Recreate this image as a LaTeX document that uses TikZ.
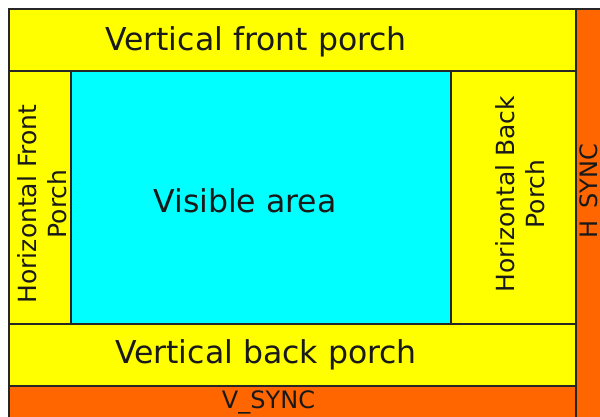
\documentclass[tikz,border=0pt]{standalone}
\usepackage{fontspec}
\setmainfont{DejaVu Sans}
\definecolor{porch}{HTML}{FFFF00}
\definecolor{visarea}{HTML}{00FFFF}
\definecolor{syncc}{HTML}{FF6600}
\begin{document}
\begin{tikzpicture}[x=1pt,y=-1pt,
 area/.style={draw=black!85, line width=1.6pt, fill=#1, anchor=north west, inner sep=0pt, outer sep=0pt},
 big/.style={font=\fontsize{31.5}{38}\selectfont, inner sep=0pt, text=black!90},
 side/.style={font=\fontsize{25}{30}\selectfont, align=center, rotate=90, inner sep=0pt, text=black!90},
 small/.style={font=\fontsize{24}{28}\selectfont, inner sep=0pt, text=black!90}]
\useasboundingbox (0,0) rectangle (600,416);
\clip (0,0) rectangle (600,416);
\node[area=syncc, minimum width=620pt, minimum height=60pt] (vsync) at (9,386) {};
\node[area=syncc, minimum width=50pt, minimum height=440pt] (hsync) at (576,9) {};
\node[area=porch, minimum width=567pt, minimum height=62pt] (vfp) at (9,9) {};
\node[area=porch, minimum width=567pt, minimum height=62pt] (vbp) at (9,324) {};
\node[area=porch, minimum width=62pt, minimum height=253pt] (hfp) at (9,71) {};
\node[area=porch, minimum width=125pt, minimum height=253pt] (hbp) at (451,71) {};
\node[area=visarea, minimum width=380pt, minimum height=253pt] (vis) at (71,71) {};
\node[big, anchor=base] (tvfp) at (256,50) {Vertical front porch};
\node[big, anchor=base] (tvis) at (245,212) {Visible area};
\node[big, anchor=base] (tvbp) at (266,363) {Vertical back porch};
\node[small, anchor=base] (tvs) at (268.5,408) {V\_SYNC};
\node[small, anchor=base, rotate=90] (ths) at (597,191.5) {H\_SYNC};
\node[side] (thfp) at (42,204) {Horizontal Front\\Porch};
\node[side] (thbp) at (520,194) {Horizontal Back\\Porch};
\end{tikzpicture}
\end{document}
